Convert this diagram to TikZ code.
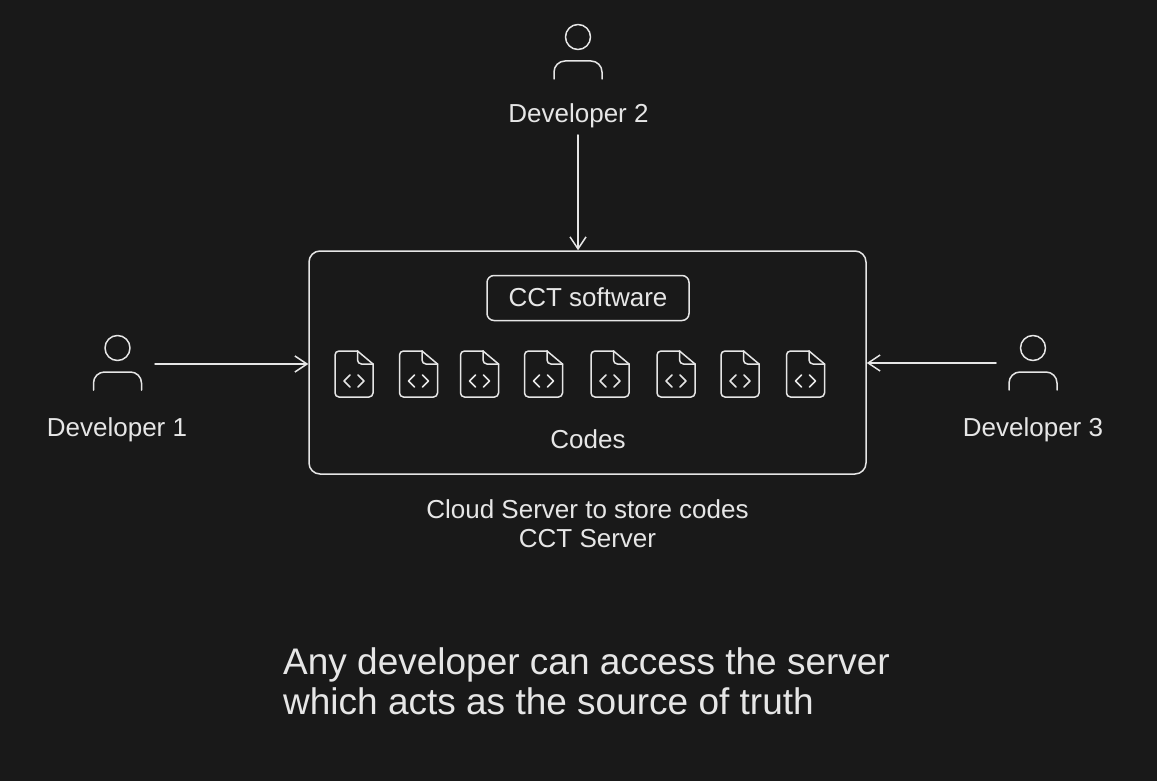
\documentclass[tikz,border=0pt]{standalone}
\usepackage{fontspec}
\setmainfont{Liberation Sans}
\usetikzlibrary{arrows.meta}
\definecolor{bgc}{HTML}{191919}
\definecolor{ink}{HTML}{E6E6E6}
\tikzset{
  x=1pt,y=-1pt,
  ln/.style={draw=ink,line width=1.5pt,line cap=round,line join=round},
  lbl/.style={text=ink,font=\fontsize{26}{29}\selectfont,inner sep=0pt,align=center},
  big/.style={text=ink,font=\fontsize{37}{40}\selectfont,inner sep=0pt,align=left},
  conn/.style={ln,-{Straight Barb[length=12pt,width=16pt,line width=1.5pt]}},
  filepic/.pic={
    \draw[ln,rounded corners=4pt] (3.5,-23) -- (-19,-23) -- (-19,23) -- (19,23) -- (19,-10);
    \draw[ln] (19,-10) -- (3.5,-23);
    \draw[ln,rounded corners=4pt] (3.5,-23) -- (3.5,-10) -- (19,-10);
    \draw[ln] (-4,1) -- (-10,7) -- (-4,13);
    \draw[ln] (4,1) -- (10,7) -- (4,13);
  },
  personpic/.pic={
    \draw[ln] (0,0) circle[radius=12.5];
    \draw[ln,rounded corners=11pt] (-24,42) -- (-24,24) -- (24,24) -- (24,42);
  }
}
\begin{document}
\begin{tikzpicture}
\fill[bgc] (0,0) rectangle (1157,781);
\useasboundingbox (0,0) rectangle (1157,781);

\node[ln,rounded corners=11pt,minimum width=557pt,minimum height=223pt,inner sep=0pt] (server) at (587.5,362.5) {};
\node[ln,rounded corners=7pt,minimum width=202pt,minimum height=45pt,inner sep=0pt,text=ink,font=\fontsize{26}{29}\selectfont] (cct) at (588,298) {\raisebox{1.5pt}{CCT software}};
\node[lbl] (codes) at (588,439) {Codes};
\node[lbl] (caption) at (587.5,524) {Cloud Server to store codes\\CCT Server};

\pic at (117.5,348) {personpic};
\pic at (578,37) {personpic};
\pic at (1033,348) {personpic};
\node[lbl] (dev1) at (117,429.5) {Developer 1};
\node[lbl] (dev2) at (578.5,115.5) {Developer 2};
\node[lbl] (dev3) at (1033,429.5) {Developer 3};

\pic at (354,374) {filepic};
\pic at (418.5,374) {filepic};
\pic at (479.5,374) {filepic};
\pic at (543.5,374) {filepic};
\pic at (610,374) {filepic};
\pic at (676,374) {filepic};
\pic at (740,374) {filepic};
\pic at (805.5,374) {filepic};

\coordinate (d1out) at (155,364);
\coordinate (d2out) at (578,135);
\coordinate (d3out) at (996,363);
\draw[conn] (d1out) -- (d1out -| server.west);
\draw[conn] (d2out) -- (d2out |- server.north);
\draw[conn] (d3out) -- (d3out -| server.east);

\node[big,anchor=north west] (note) at (283,647.5) {Any developer can access the server\\which acts as the source of truth};
\end{tikzpicture}
\end{document}
